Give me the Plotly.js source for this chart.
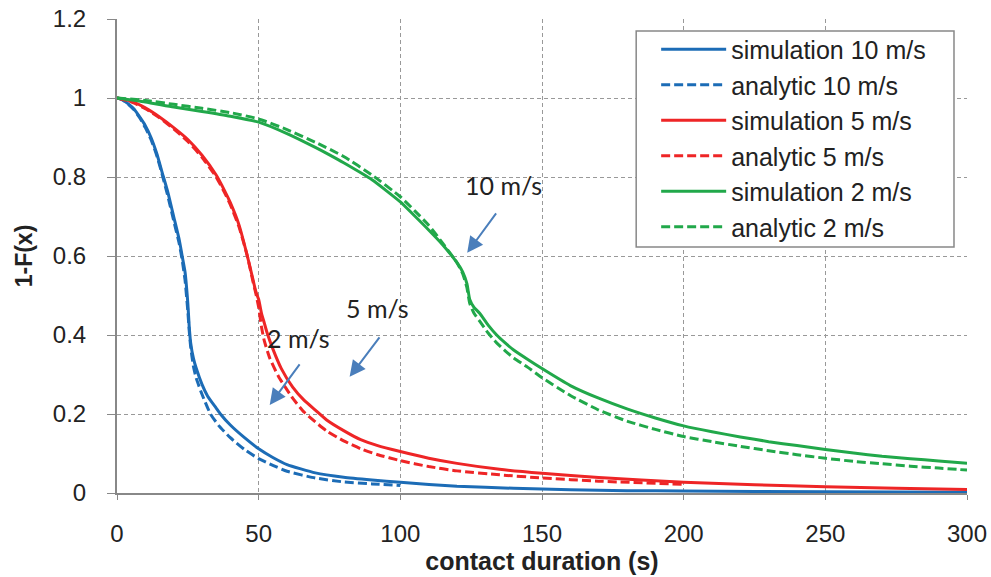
<!DOCTYPE html>
<html>
<head>
<meta charset="utf-8">
<script src="https://cdn.plot.ly/plotly-3.0.1.min.js"></script>
<style>html,body{margin:0;padding:0;background:#fff;}#chart{width:991px;height:577px;}</style>
</head>
<body>
<div id="chart"></div>
<script>
// ---- data ----
const sim10X = [0,2,4,6,8,10,12,14,16,18,20,22,23,24,25,25.5,26,27,28,30,32,35,36.5,40,45,50,55,60,70,80,90,100,120,140,160,180,200,250,300];
const sim10Y = [1,0.995,0.985,0.972,0.952,0.93,0.9,0.86,0.81,0.76,0.7,0.64,0.6,0.56,0.48,0.42,0.38,0.34,0.315,0.275,0.245,0.215,0.2,0.172,0.14,0.112,0.09,0.072,0.051,0.04,0.033,0.027,0.017,0.012,0.008,0.006,0.005,0.003,0.002];

const ana10X = [0,2,4,6,8,10,12,14,16,18,20,22,23,24,25,25.5,26,27,28,30,33,36,40,45,50,55,60,70,80,90,100];
const ana10Y = [1,0.995,0.984,0.97,0.95,0.925,0.895,0.855,0.805,0.75,0.69,0.63,0.59,0.54,0.46,0.41,0.37,0.32,0.29,0.25,0.2,0.17,0.14,0.11,0.087,0.07,0.055,0.038,0.028,0.023,0.019];

const sim5X = [0,5,10,15,20,25,30,35,38,40,43,46,48,49,50,51,52,53,55,58,62,66,70,74,80,86,92,100,110,120,135,150,170,200,225,250,275,300];
const sim5Y = [1,0.992,0.975,0.952,0.925,0.895,0.855,0.805,0.765,0.735,0.68,0.6,0.54,0.51,0.49,0.455,0.43,0.405,0.365,0.315,0.268,0.235,0.21,0.185,0.158,0.135,0.12,0.105,0.088,0.075,0.06,0.05,0.039,0.027,0.021,0.016,0.012,0.009];

const ana5X = [0,5,10,15,20,25,30,35,38,40,43,46,48,49,50,51,52,54,57,62,66,70,74,80,86,92,100,110,120,135,150,170,200];
const ana5Y = [1,0.99,0.973,0.95,0.922,0.89,0.85,0.8,0.76,0.73,0.675,0.6,0.535,0.505,0.47,0.42,0.385,0.34,0.295,0.24,0.205,0.18,0.157,0.132,0.112,0.097,0.082,0.067,0.056,0.046,0.038,0.03,0.022];

const sim2X = [0,10,20,30,40,50,60,70,75,80,90,100,105,110,115,120,122,123.5,124.5,126,128,131,134,137,140,145,150,160,170,180,190,200,210,220,230,240,250,260,270,280,290,300];
const sim2Y = [1,0.99,0.977,0.966,0.954,0.939,0.91,0.875,0.856,0.836,0.793,0.737,0.702,0.666,0.628,0.583,0.56,0.53,0.49,0.47,0.455,0.425,0.4,0.38,0.362,0.338,0.315,0.272,0.24,0.213,0.19,0.17,0.155,0.142,0.13,0.12,0.11,0.101,0.093,0.087,0.081,0.075];

const ana2X = [0,10,20,30,40,50,60,70,80,90,100,105,110,115,120,122,123.5,124.5,126,128,131,134,137,140,145,150,160,170,180,190,200,210,220,230,240,250,260,270,280,290,300];
const ana2Y = [1,0.994,0.984,0.974,0.963,0.947,0.92,0.888,0.852,0.805,0.75,0.715,0.678,0.632,0.583,0.555,0.52,0.48,0.455,0.435,0.405,0.38,0.36,0.342,0.318,0.292,0.247,0.21,0.182,0.161,0.143,0.13,0.118,0.107,0.097,0.088,0.08,0.074,0.068,0.063,0.058];

const seriesNames = ['simulation 10 m/s','analytic 10 m/s','simulation 5 m/s','analytic 5 m/s','simulation 2 m/s','analytic 2 m/s'];
const xTicks = [0,50,100,150,200,250,300];
const yTicks = [0,0.2,0.4,0.6,0.8,1,1.2];
const yTickText = ['0','0.2','0.4','0.6','0.8','1','1.2'];

// ---- styles ----
const BLUE = '#1c6cb6', RED = '#ee2526', GREEN = '#21a84a';
const DASH = '9px,4px';
const xs = [sim10X, ana10X, sim5X, ana5X, sim2X, ana2X];
const ys = [sim10Y, ana10Y, sim5Y, ana5Y, sim2Y, ana2Y];
const cols = [BLUE, BLUE, RED, RED, GREEN, GREEN];
const dashes = ['solid', DASH, 'solid', DASH, 'solid', DASH];

const traces = seriesNames.map((n, i) => ({
  x: xs[i], y: ys[i], name: n, type: 'scatter', mode: 'lines',
  line: {color: cols[i], width: 3, dash: dashes[i], shape: 'spline', smoothing: 0.5}
}));

const SANS = '"Liberation Sans", Arial, sans-serif';
const ANNF = 'Lato, "Open Sans", sans-serif';

function arrowAnn(x, y, ax, ay) {
  return {x: x, y: y, xref: 'x', yref: 'y', ax: ax, ay: ay, axref: 'pixel', ayref: 'pixel',
    showarrow: true, arrowhead: 2, arrowsize: 1.6, arrowwidth: 2, arrowcolor: '#4a7ebb', text: ''};
}
function textAnn(x, y, t) {
  return {x: x, y: y, xref: 'x', yref: 'y', text: t, showarrow: false,
    font: {family: ANNF, size: 25, color: '#222'}};
}

const layout = {
  width: 991, height: 577,
  margin: {l: 116.5, r: 24, t: 19, b: 84},
  paper_bgcolor: '#fff', plot_bgcolor: '#fff',
  showlegend: true,
  legend: {
    x: 0.6343, y: 0.984, xanchor: 'left', yanchor: 'top',
    borderwidth: 0, bgcolor: 'rgba(0,0,0,0)',
    font: {family: SANS, size: 25, color: '#222'},
    itemwidth: 65, tracegroupgap: 0
  },
  shapes: [{
    type: 'rect', xref: 'paper', yref: 'paper', layer: 'above',
    x0: 0.6108, x1: 0.9847, y0: 0.519, y1: 0.9747,
    fillcolor: '#fff', line: {color: '#888', width: 1.5}
  }],
  xaxis: {
    range: [0, 300], tickvals: xTicks, ticktext: xTicks.map(String),
    showgrid: true, gridcolor: '#999', griddash: '4px,3px', gridwidth: 1,
    showline: true, linecolor: '#888', linewidth: 2,
    ticks: 'outside', ticklen: 5, tickcolor: '#888', ticklabelstandoff: 13,
    zeroline: false,
    tickfont: {family: SANS, size: 24, color: '#222'},
    title: {text: '<b>contact duration (s)</b>', font: {family: SANS, size: 25, color: '#222'}, standoff: 2}
  },
  yaxis: {
    range: [0, 1.2], tickvals: yTicks, ticktext: yTickText,
    showgrid: true, gridcolor: '#999', griddash: '4px,3px', gridwidth: 1,
    showline: true, linecolor: '#888', linewidth: 2,
    ticks: 'outside', ticklen: 8, tickcolor: '#888', ticklabelstandoff: 16,
    zeroline: false,
    tickfont: {family: SANS, size: 24, color: '#222'},
    title: {text: '<b>1-F(x)</b>', font: {family: SANS, size: 23, color: '#222'}, standoff: 14}
  },
  annotations: [
    textAnn(136.4, 0.78, '10 m/s'), arrowAnn(123.6, 0.608, 30, -41),
    textAnn(91.9, 0.468, '5 m/s'), arrowAnn(82.1, 0.294, 31, -41),
    textAnn(64, 0.392, '2 m/s'), arrowAnn(53.9, 0.223, 31, -42)
  ]
};

Plotly.newPlot('chart', traces, layout, {displayModeBar: false, staticPlot: true});
</script>
</body>
</html>
